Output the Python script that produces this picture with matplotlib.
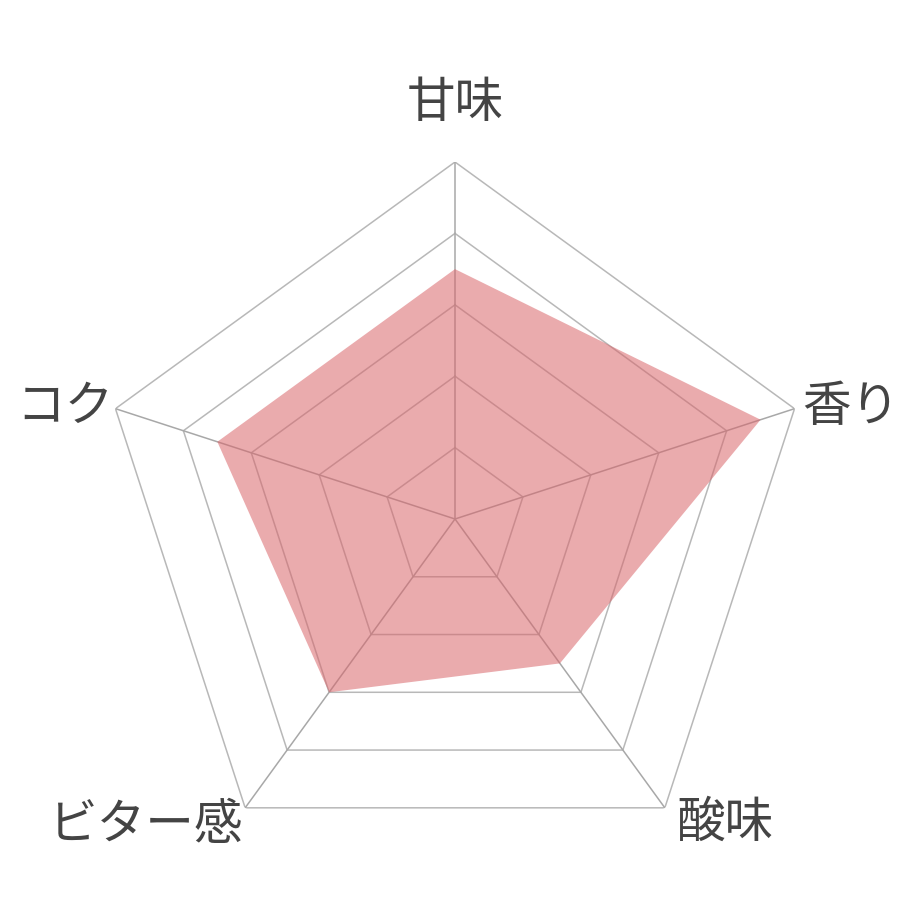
import numpy as np
import matplotlib
matplotlib.use("Agg")
import matplotlib.pyplot as plt

plt.rcParams["font.family"] = ["Noto Sans CJK JP", "DejaVu Sans"]

# ---------- data ----------
labels = ["甘味", "香り", "酸味", "ビター感", "コク"]
values = [3.5, 4.5, 2.5, 3.0, 3.5]
levels = [1, 2, 3, 4, 5]

# label offsets from the outer vertex, in pixels
label_off = [(0, 60), (56, 2), (60, -14), (-99, -16), (-51, 2)]

n = len(labels)
angles = np.linspace(0, 2 * np.pi, n, endpoint=False)
closed = np.append(angles, angles[0])

fig = plt.figure(figsize=(9.2, 9.2), dpi=100)
ax = fig.add_axes([98 / 920, 43 / 920, 714 / 920, 714 / 920], projection="polar")
ax.set_theta_offset(np.pi / 2)
ax.set_theta_direction(-1)
ax.set_ylim(0, 5)
ax.set_xticks([])
ax.set_yticks([])
ax.grid(False)
ax.spines["polar"].set_visible(False)
ax.patch.set_visible(False)

# pentagon rings
for lv in levels:
    ax.plot(closed, [lv] * (n + 1), color="#b8b8b8", lw=1.1, zorder=1)
# spokes
for a in angles:
    ax.plot([a, a], [0, levels[-1]], color="#a8a8a8", lw=1.1, zorder=1)

# data polygon
vals = values + values[:1]
ax.fill(closed, vals, color="#D9666B", alpha=0.55, lw=0, zorder=2)

for a, lab, off in zip(angles, labels, label_off):
    ax.annotate(lab, xy=(a, levels[-1]), xytext=off, textcoords="offset pixels",
                ha="center", va="center", fontsize=35, color="#444444",
                annotation_clip=False)

fig.savefig("out.png", dpi=100, facecolor="white")
